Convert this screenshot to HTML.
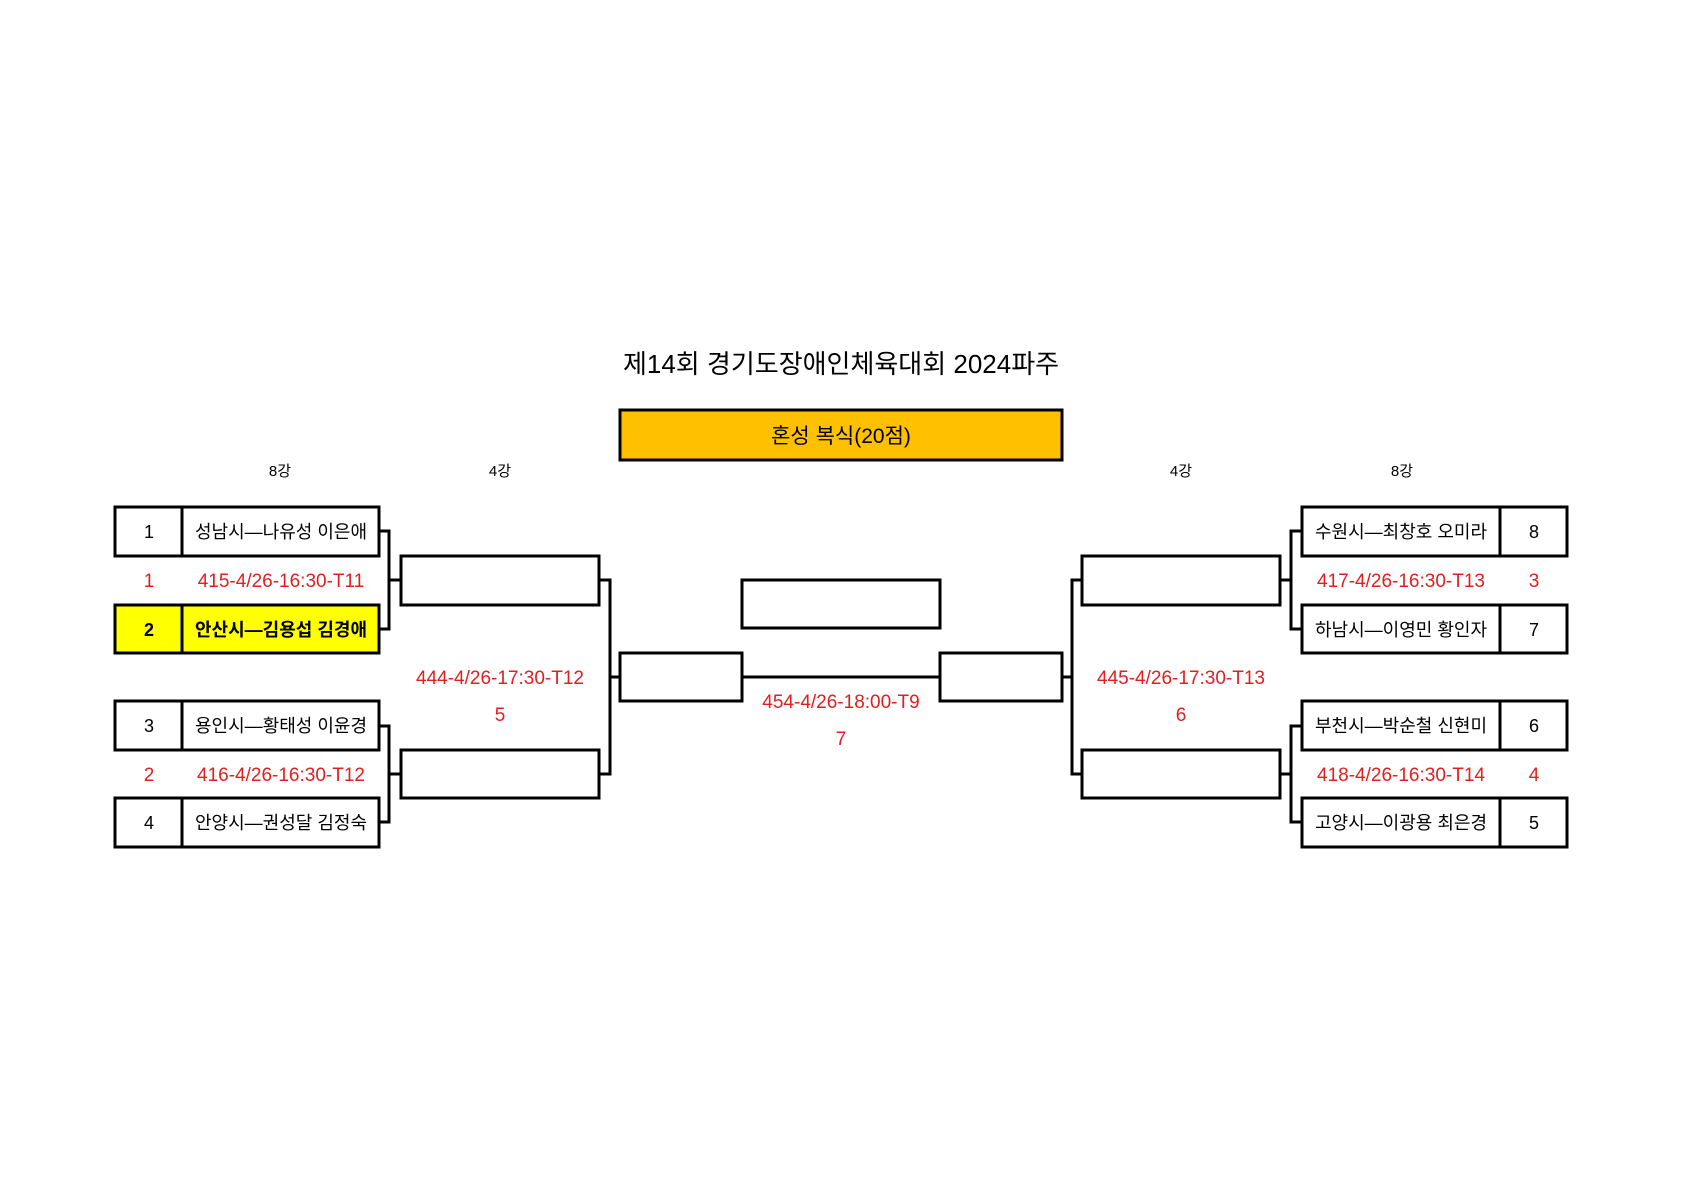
<!DOCTYPE html>
<html><head><meta charset="utf-8"><style>
html,body{margin:0;padding:0;background:#fff;}
svg{display:block;}
text{font-family:"Liberation Sans","Noto Sans CJK KR",sans-serif;}
</style></head><body>
<svg width="1684" height="1190" viewBox="0 0 1684 1190" xmlns="http://www.w3.org/2000/svg">
<g fill="none" stroke="#000" stroke-width="3">
<rect x="620" y="410" width="442" height="50" fill="#FFC000"/>
<rect x="115" y="507" width="67" height="49"/><rect x="182" y="507" width="197" height="49"/>
<rect x="115" y="605" width="67" height="48" fill="#FFFF00"/><rect x="182" y="605" width="197" height="48" fill="#FFFF00"/>
<rect x="115" y="701" width="67" height="49"/><rect x="182" y="701" width="197" height="49"/>
<rect x="115" y="798" width="67" height="49"/><rect x="182" y="798" width="197" height="49"/>
<polyline points="379,531 389,531 389,629 379,629"/>
<line x1="389" y1="580" x2="401" y2="580"/>
<polyline points="379,726 389,726 389,822 379,822"/>
<line x1="389" y1="774" x2="401" y2="774"/>
<rect x="401" y="556" width="198" height="49"/>
<rect x="401" y="750" width="198" height="48"/>
<polyline points="599,580 610,580 610,774 599,774"/>
<line x1="610" y1="677" x2="620" y2="677"/>
<rect x="620" y="653" width="122" height="48"/>
<rect x="742" y="580" width="198" height="48"/>
<line x1="742" y1="677" x2="940" y2="677"/>
<rect x="940" y="653" width="122" height="48"/>
<line x1="1062" y1="677" x2="1072" y2="677"/>
<polyline points="1082,580 1072,580 1072,774 1082,774"/>
<rect x="1082" y="556" width="198" height="49"/>
<rect x="1082" y="750" width="198" height="48"/>
<line x1="1280" y1="580" x2="1291" y2="580"/>
<polyline points="1302,531 1291,531 1291,629 1302,629"/>
<line x1="1280" y1="774" x2="1291" y2="774"/>
<polyline points="1302,726 1291,726 1291,822 1302,822"/>
<rect x="1302" y="507" width="198" height="49"/><rect x="1500" y="507" width="67" height="49"/>
<rect x="1302" y="605" width="198" height="48"/><rect x="1500" y="605" width="67" height="48"/>
<rect x="1302" y="701" width="198" height="49"/><rect x="1500" y="701" width="67" height="49"/>
<rect x="1302" y="798" width="198" height="49"/><rect x="1500" y="798" width="67" height="49"/>
</g>
<g text-anchor="middle" fill="#000">
<text x="841" y="373" font-size="26">제14회 경기도장애인체육대회 2024파주</text>
<text x="841" y="443" font-size="21">혼성 복식(20점)</text>
<text x="280" y="476" font-size="15">8강</text>
<text x="500" y="476" font-size="15">4강</text>
<text x="1181" y="476" font-size="15">4강</text>
<text x="1402" y="476" font-size="15">8강</text>
<g font-size="18">
<text x="149" y="538">1</text><text x="281" y="538">성남시—나유성 이은애</text>
<text x="149" y="636" font-weight="bold">2</text><text x="281" y="636" font-weight="bold">안산시—김용섭 김경애</text>
<text x="149" y="732">3</text><text x="281" y="732">용인시—황태성 이윤경</text>
<text x="149" y="829">4</text><text x="281" y="829">안양시—권성달 김정숙</text>
<text x="1401" y="538">수원시—최창호 오미라</text><text x="1534" y="538">8</text>
<text x="1401" y="636">하남시—이영민 황인자</text><text x="1534" y="636">7</text>
<text x="1401" y="732">부천시—박순철 신현미</text><text x="1534" y="732">6</text>
<text x="1401" y="829">고양시—이광용 최은경</text><text x="1534" y="829">5</text>
</g>
<g font-size="19" fill="#E02020">
<text x="149" y="587">1</text><text x="281" y="587">415-4/26-16:30-T11</text>
<text x="149" y="781">2</text><text x="281" y="781">416-4/26-16:30-T12</text>
<text x="500" y="684">444-4/26-17:30-T12</text><text x="500" y="721">5</text>
<text x="841" y="708">454-4/26-18:00-T9</text><text x="841" y="745">7</text>
<text x="1181" y="684">445-4/26-17:30-T13</text><text x="1181" y="721">6</text>
<text x="1401" y="587">417-4/26-16:30-T13</text><text x="1534" y="587">3</text>
<text x="1401" y="781">418-4/26-16:30-T14</text><text x="1534" y="781">4</text>
</g>
</g>
</svg>
</body></html>
